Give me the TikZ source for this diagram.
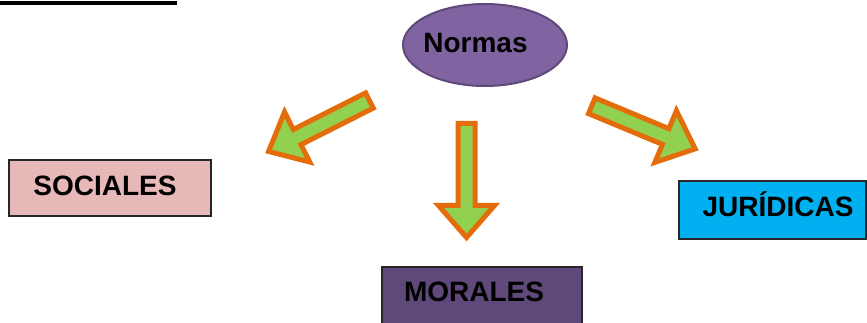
\documentclass[tikz,border=0pt]{standalone}
\usepackage{fontspec}
\setmainfont{Liberation Sans}
\usetikzlibrary{shapes.geometric}
\definecolor{ellfill}{HTML}{8064A2}
\definecolor{elldraw}{HTML}{5F497A}
\definecolor{socfill}{HTML}{E6B9B8}
\definecolor{jurfill}{HTML}{00B0F0}
\definecolor{morfill}{HTML}{5F497A}
\definecolor{arrfill}{HTML}{92D050}
\definecolor{arrdraw}{HTML}{E46C0A}
\definecolor{boxdraw}{HTML}{262626}
\tikzset{
  lbl/.style={font=\fontsize{28}{30}\selectfont\bfseries, text=black, inner sep=0pt, anchor=base},
  catbox/.style={draw=boxdraw, line width=1.5pt},
  blockarrow/.style={fill=arrfill, draw=arrdraw, line width=5pt, line join=miter},
}
\begin{document}
\begin{tikzpicture}[x=1pt,y=1pt]
\useasboundingbox (0,0) rectangle (867,323);
\clip (0,0) rectangle (867,323);
% top rule
\fill[black] (0,318) rectangle (177,322);
% ellipse
\node[ellipse, fill=ellfill, draw=elldraw, line width=2pt, minimum width=164pt, minimum height=82pt, inner sep=0pt] (normas) at (485,278) {};
\node[lbl] (normaslbl) at (475.5,270) {Normas};
% boxes
\path[catbox, fill=socfill] (9,107) rectangle (211,163);
\node[lbl] (soc) at (105,127) {SOCIALES};
\path[catbox, fill=jurfill] (679,84) rectangle (866,142);
\node[lbl] (jur) at (778,106) {JURÍDICAS};
\path[catbox, fill=morfill] (382,-10) rectangle (582,56);
\node[lbl] (mor) at (474,21) {MORALES};
% block arrows (local: shaft half width 8.5, head half width 28, head length 32)
\draw[blockarrow, shift={(319,197)}, rotate=206.8]
  (-56.5,-8.5) -- (24.5,-8.5) -- (24.5,-28) -- (56.5,0) -- (24.5,28) -- (24.5,8.5) -- (-56.5,8.5) -- cycle;
\draw[blockarrow, shift={(466.5,142.5)}, rotate=-90]
  (-57,-8.5) -- (25,-8.5) -- (25,-28) -- (57,0) -- (25,28) -- (25,8.5) -- (-57,8.5) -- cycle;
\draw[blockarrow, shift={(643.5,195.7)}, rotate=-22.6]
  (-56,-8.5) -- (24,-8.5) -- (24,-28) -- (56,0) -- (24,28) -- (24,8.5) -- (-56,8.5) -- cycle;
\end{tikzpicture}
\end{document}
